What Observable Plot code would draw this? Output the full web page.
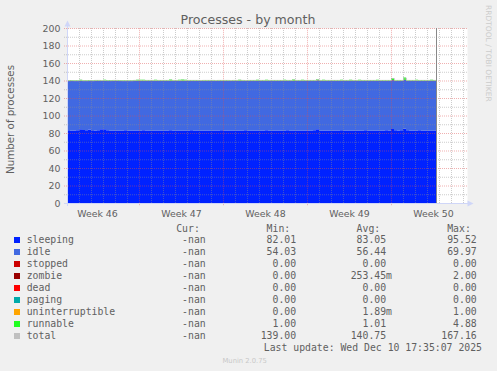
<!DOCTYPE html>
<html><head><meta charset="utf-8">
<script src="https://cdn.jsdelivr.net/npm/d3@7"></script>
<script src="https://cdn.jsdelivr.net/npm/@observablehq/plot@0.6"></script>
<style>
html,body{margin:0;padding:0;background:#f0f0f0;}
#wrap{position:relative;width:497px;height:371px;overflow:hidden;background:#f0f0f0;}
#chart{position:absolute;left:0;top:0;}
#over{position:absolute;left:0;top:0;pointer-events:none;}
</style></head><body>
<div id="wrap"><div id="chart"></div><svg id="over" width="497" height="371" xmlns="http://www.w3.org/2000/svg"></svg></div>
<script>
// ---- data: 6-hourly samples starting Mon Nov 10 2025 00:00 ----
const sampleStart = Date.UTC(2025, 10, 10, 0, 0);
const sampleStepHours = 6;
const sleeping = [
83.1,83.0,83.0,83.2,84.2,83.4,83.1,84.0,
83.2,83.0,83.1,84.3,84.4,83.1,83.0,82.9,
83.0,82.9,83.0,83.1,82.8,83.0,82.9,83.0,
83.0,83.1,82.9,83.0,82.8,83.0,83.0,82.9,
83.0,82.9,83.1,83.0,82.8,83.0,82.9,83.0,
83.0,83.1,82.9,82.8,83.0,83.0,82.9,83.0,
82.9,83.0,83.0,83.1,82.9,83.0,82.8,83.0,
83.0,82.9,83.0,83.1,83.0,82.9,83.0,83.0,
82.8,83.0,83.1,83.0,82.9,83.0,83.0,82.9,
83.0,83.1,82.9,83.0,83.0,82.8,83.0,83.0,
82.9,83.0,83.1,84.3,83.0,82.9,83.0,83.0,
83.0,82.9,83.0,83.1,83.0,82.9,83.0,83.0,
82.9,83.0,83.0,83.1,82.9,83.0,83.0,82.9,
83.0,83.0,83.1,83.0,84.6,83.2,83.0,83.1,
84.8,83.2,83.0,82.9,83.0,83.1,83.0,82.9,
83.0,83.0,82.9,83.0];
const idle = [
56.3,56.5,56.4,56.2,55.4,56.0,56.3,55.5,
56.2,56.4,56.3,55.3,55.2,56.4,56.5,56.5,
56.4,56.6,56.4,56.3,56.6,56.4,56.5,56.4,
56.5,56.3,56.5,56.4,56.6,56.4,56.4,56.5,
56.4,56.5,56.3,56.4,56.6,56.5,56.5,56.4,
56.4,56.3,56.5,56.6,56.4,56.4,56.5,56.4,
56.5,56.4,56.4,56.3,56.5,56.4,56.6,56.4,
56.4,56.5,56.4,56.3,56.4,56.5,56.4,56.4,
56.6,56.4,56.3,56.4,56.5,56.4,56.4,56.5,
56.4,56.3,56.5,56.4,56.4,56.6,56.4,56.4,
56.5,56.4,56.3,55.6,56.4,56.5,56.4,56.4,
56.4,56.5,56.4,56.3,56.4,56.5,56.4,56.4,
56.5,56.4,56.4,56.3,56.5,56.4,56.4,56.5,
56.4,56.4,56.3,56.4,55.8,56.2,56.4,56.3,
55.8,56.2,56.4,56.5,56.4,56.3,56.4,56.5,
56.4,56.4,56.5,56.4];
const zombie = [
0,0,0,0,0,0,0,0,
0,0.3,0.3,0,0,0,0,0.3,
0.3,0,0,0,0,0,0.3,0.3,
0.3,0.4,0.3,0.3,0.3,0.4,0.3,0.3,
0.3,0.3,0.4,0.3,0.3,0.3,0.3,0.4,
0.3,0.3,0.3,0.3,0.2,0.3,0.3,0.3,
0.3,0.2,0.3,0.3,0.3,0.3,0.2,0.3,
0.3,0.3,0.3,0.2,0.3,0.3,0.3,0.3,
0.3,0.3,0.4,0.3,0.3,0.3,0.3,0.3,
0.4,0.3,0.3,0.3,0.3,0.3,0.4,0.3,
0.3,0.3,0.3,0.3,0.3,0.4,0.3,0.3,
0.3,0.3,0.3,0.4,0.3,0.3,0.3,0.3,
0.3,0.4,0.3,0.3,0.3,0.3,0.3,0.4,
0.3,0.3,0.3,0.3,0.3,0.3,0.3,0.3,
0.3,0.3,0.3,0.3,0.4,0.3,0.3,0.3,
0.3,0.3,0.3,0.3];
const runnable = [
1.0,1.0,1.0,1.0,1.4,1.0,1.0,1.0,
1.0,1.0,1.0,1.0,1.2,1.0,1.0,1.0,
1.0,1.0,1.0,1.0,1.0,1.0,1.0,1.3,
1.0,1.0,1.0,1.0,1.0,1.0,1.0,1.0,
1.0,1.0,1.3,1.0,1.0,1.0,1.4,1.0,
1.0,1.0,1.0,1.0,1.0,1.0,1.0,1.0,
1.0,1.0,1.0,1.0,1.0,1.0,1.0,1.0,
1.0,1.3,1.0,1.0,1.0,1.0,1.0,1.2,
1.0,1.0,1.0,1.0,1.0,1.0,1.0,1.0,
1.0,1.0,1.0,1.5,1.0,1.0,1.0,1.0,
1.0,1.0,1.0,1.3,1.0,1.0,1.0,1.0,
1.0,1.0,1.0,1.0,1.0,1.0,1.2,1.0,
1.0,1.0,1.0,1.0,1.0,1.0,1.0,1.0,
1.0,1.0,1.0,1.0,2.2,1.0,1.0,1.0,
2.5,1.0,1.0,1.0,1.0,1.0,1.0,1.0,
1.0,1.2,1.0,1.0];
// stopped, dead, paging, uninterruptible are 0 over the whole period

// legend
const seriesNames  = ["sleeping","idle","stopped","zombie","dead","paging","uninterruptible","runnable","total"];
const seriesColors = ["#0022ff","#4169e1","#cc0000","#990000","#ff0000","#00aaaa","#ffa500","#22ff22","#c0c0c0"];
const curValues = ["-nan","-nan","-nan","-nan","-nan","-nan","-nan","-nan","-nan"];
const minValues = ["82.01","54.03","0.00","0.00","0.00","0.00","0.00","1.00","139.00"];
const avgValues = ["83.05","56.44","0.00","253.45m","0.00","0.00","1.89m","1.01","140.75"];
const maxValues = ["95.52","69.97","0.00","2.00","0.00","0.00","1.00","4.88","167.16"];
const columnHeaders = ["Cur:","Min:","Avg:","Max:"];

// axes
const yMajorTicks = [0,20,40,60,80,100,120,140,160,180,200];
const yMinorTicks = [10,30,50,70,90,110,130,150,170,190];
const weekLabels = ["Week 46","Week 47","Week 48","Week 49","Week 50"];
const weekStartDates = ["2025-11-09","2025-11-16","2025-11-23","2025-11-30","2025-12-07"]; // Sundays
const xDomain = [new Date(Date.UTC(2025,10,10,0)), new Date(Date.UTC(2025,11,13,8))];
const titleText = "Processes - by month";
const yLabelText = "Number of processes";
const lastUpdate = "Last update: Wed Dec 10 17:35:07 2025";

// ---- build ----
const stepMs = sampleStepHours * 3600e3;
const timeAt = i => new Date(sampleStart + i * stepMs);
const stackedNames = ["sleeping","idle","zombie","runnable"];
const stackedValues = {sleeping, idle, zombie, runnable};
const long = [];
for (const name of stackedNames) stackedValues[name].forEach((v, i) => long.push({t: timeAt(i), v, s: name}));
const totals = sleeping.map((v, i) => ({t: timeAt(i), v: v + idle[i] + zombie[i] + runnable[i]}));
const lastTime = timeAt(sleeping.length - 1);

const days = d3.utcDay.range(d3.utcDay.offset(xDomain[0], 1), xDomain[1]);
const sundays = weekStartDates.map(s => new Date(s + "T00:00:00Z")).filter(d => d > xDomain[0] && d < xDomain[1]);
const weeks = weekLabels.map((label, i) => ({label, c: new Date(Date.parse(weekStartDates[i] + "T00:00:00Z") + 3.5 * 86400e3)}));
const gridLeft = new Date(+xDomain[0] - 0.25 * 86400e3);

const MINOR = "rgba(143,143,143,0.45)";
const MAJOR = "rgba(222,79,79,0.45)";
const TXT = "#606060";

const chart = Plot.plot({
  width: 497, height: 222,
  marginLeft: 67, marginRight: 30, marginTop: 28, marginBottom: 19,
  style: {background: "transparent", fontFamily: "'DejaVu Sans', sans-serif", fontSize: "9.4px", color: TXT},
  x: {type: "utc", domain: xDomain, axis: null},
  y: {domain: [0, 200], axis: null},
  color: {domain: seriesNames, range: seriesColors},
  marks: [
    Plot.frame({fill: "white", stroke: null}),
    Plot.areaY(long, {x: "t", y: "v", fill: "s", z: "s", order: stackedNames, curve: "step-after"}),
    Plot.ruleX(days.filter(d => !sundays.some(s => +s === +d)), {y1: 0, y2: 200, stroke: MINOR, strokeDasharray: "1,1"}),
    Plot.ruleY(yMinorTicks, {x1: gridLeft, x2: xDomain[1], stroke: MINOR, strokeDasharray: "1,1"}),
    Plot.ruleX(sundays, {y1: -2.5, y2: 200, stroke: MAJOR, strokeDasharray: "1,1"}),
    Plot.ruleY(yMajorTicks.filter(v => v > 0), {x1: gridLeft, x2: xDomain[1], stroke: MAJOR, strokeDasharray: "1,1"}),
    Plot.lineY(totals, {x: "t", y: "v", stroke: seriesColors[8], strokeWidth: 1, strokeOpacity: 0.8, curve: "step-after"}),
    Plot.ruleX([lastTime], {y1: 0, y2: 200, stroke: "#888", strokeWidth: 1}),
    Plot.axisY(yMajorTicks, {tickSize: 0, tickPadding: 7, label: null, fill: TXT, fontSize: 9.4}),
    Plot.text(weeks, {x: "c", text: "label", frameAnchor: "bottom", lineAnchor: "bottom", dy: 13.5, fill: TXT, fontSize: 9.4})
  ]
});
document.getElementById("chart").append(chart);

// ---- overlay: titles, axis arrows, legend ----
const svg = d3.select("#over");
const AX = "#CFD6F8";
svg.append("line").attr("x1", 67.5).attr("x2", 67.5).attr("y1", 206).attr("y2", 24).attr("stroke", AX);
svg.append("path").attr("d", "M64.5,26.5L70.5,26.5L67.5,20.5Z").attr("fill", AX);
svg.append("line").attr("x1", 64).attr("x2", 470).attr("y1", 203.5).attr("y2", 203.5).attr("stroke", AX);
svg.append("path").attr("d", "M467.5,200.5L467.5,206.5L473.5,203.5Z").attr("fill", AX);

const sans = "'DejaVu Sans', sans-serif";
const mono = "'DejaVu Sans Mono', monospace";
svg.append("text").attr("x", 248).attr("y", 23.5).attr("text-anchor", "middle")
  .attr("font-family", sans).attr("font-size", 12.6).attr("fill", TXT).text(titleText);
svg.append("text").attr("transform", "translate(14.3,119.5) rotate(-90)").attr("text-anchor", "middle")
  .attr("font-family", sans).attr("font-size", 10.3).attr("fill", TXT).text(yLabelText);
svg.append("text").attr("transform", "translate(485.6,5) rotate(90)")
  .attr("font-family", sans).attr("font-size", 7.5).attr("fill", "#cccccc").text("RRDTOOL / TOBI OETIKER");

const fs = 9.8, cw = fs * 0.602;
const colEnds = [211.6, 302, 392, 482.6];
const lg = svg.append("g").attr("font-family", mono).attr("font-size", fs).attr("fill", TXT);
columnHeaders.forEach((h, k) => lg.append("text").attr("x", colEnds[k] - 2 * cw).attr("y", 231.5).attr("text-anchor", "end").text(h));
const cols = [curValues, minValues, avgValues, maxValues];
seriesNames.forEach((name, r) => {
  const yb = 243 + 12 * r;
  lg.append("rect").attr("x", 14).attr("y", yb - 6).attr("width", 6).attr("height", 6).attr("fill", seriesColors[r]);
  lg.append("text").attr("x", 26.7).attr("y", yb).text(name);
  cols.forEach((col, k) => {
    const s = col[r];
    const end = /[a-zA-Z]$/.test(s) && s !== "-nan" ? colEnds[k] : colEnds[k] - cw;
    lg.append("text").attr("x", end).attr("y", yb).attr("text-anchor", "end").text(s);
  });
});
lg.append("text").attr("x", 482).attr("y", 351).attr("text-anchor", "end").text(lastUpdate);
svg.append("text").attr("x", 244.7).attr("y", 362.5).attr("text-anchor", "middle")
  .attr("font-family", sans).attr("font-size", 6.8).attr("fill", "#c8c8c8").text("Munin 2.0.75");
</script>
</body></html>
